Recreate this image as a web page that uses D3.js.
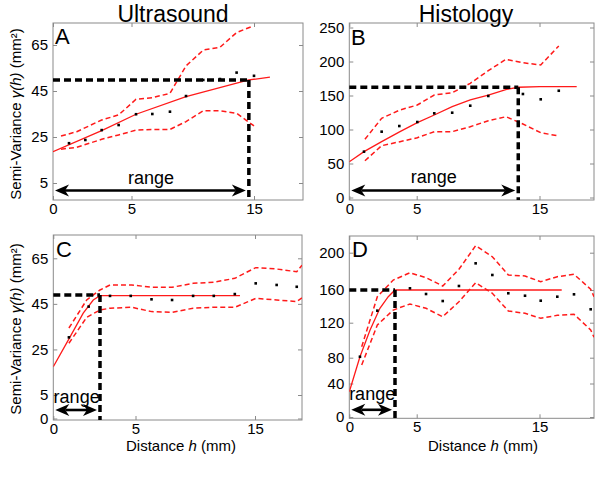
<!DOCTYPE html>
<html><head><meta charset="utf-8">
<script src="https://cdn.jsdelivr.net/npm/d3@7"></script>
<style>body{margin:0;background:#fff} svg{display:block} text{font-family:"Liberation Sans",Arial,sans-serif}</style>
</head><body><svg id="c" width="600" height="500"></svg>
<script>
// ---------- DATA ----------
const titles = ["Ultrasound", "Histology"];
const panelLetters = ["A", "B", "C", "D"];

// Panel A (Ultrasound, top)
const A_xTicks = [0, 5, 15];
const A_yTicks = [5, 25, 45, 65];
const A_lag = [1.02, 2.06, 3.10, 4.18, 5.37, 6.70, 8.14, 9.45, 10.86, 12.22, 13.58, 15.0];
const A_gamma = [22.3, 23.7, 28.0, 30.2, 34.9, 35.0, 36.0, 42.8, 49.8, 50.2, 53.0, 51.6];
const A_fitLag = [0, 3.10, 5.37, 9.45, 14.58, 16.3];
const A_fit = [18.6, 27.8, 34.9, 42.6, 49.8, 51.0];
const A_upLag = [0.51, 1.51, 3.10, 4.18, 5.37, 6.70, 8.14, 9.45, 10.86, 12.22, 13.58, 14.8];
const A_upper = [25.4, 27.3, 32.4, 34.6, 41.4, 42.1, 44.0, 55.9, 62.8, 64.0, 70.4, 73.0];
const A_loLag = [0.51, 1.51, 3.10, 4.18, 5.37, 6.70, 8.14, 9.45, 10.86, 12.22, 13.58, 15.0];
const A_lower = [19.7, 20.5, 24.0, 25.9, 28.0, 28.3, 28.3, 31.7, 36.4, 36.4, 35.3, 29.8];
const A_range = 14.58, A_sill = 49.8;

// Panel B (Histology, top)
const B_xTicks = [0, 5, 15];
const B_yTicks = [0, 50, 100, 150, 200, 250];
const B_lag = [1.09, 2.40, 3.71, 5.05, 6.43, 7.89, 9.36, 10.83, 12.2, 13.65, 15.1, 16.57];
const B_gamma = [67.4, 96.8, 105.1, 111.0, 123.8, 124.7, 135.0, 149.3, 162, 152.2, 144.4, 157.0];
const B_fitLag = [0, 1.09, 2.40, 3.76, 5.05, 6.43, 7.89, 9.36, 10.83, 12.32, 13.27, 15.04, 18.03];
const B_fit = [52.6, 67.4, 82.1, 96.8, 110.0, 121.3, 133.5, 143.4, 150.7, 159.1, 162.1, 163, 163];
const B_bandLag = [1.16, 2.40, 3.76, 5.05, 6.43, 7.89, 9.36, 10.83, 12.27, 13.65, 15.1, 16.57];
const B_upper = [85.6, 116.5, 128.7, 136, 150.7, 154.1, 167.9, 186.5, 203.2, 198.2, 194.9, 222.8];
const B_lower = [54.1, 76.2, 82.1, 87.9, 96.8, 96.8, 104.1, 112.9, 118.8, 108.1, 95.3, 90.4];
const B_range = 13.27, B_sill = 162;

// Panel C (Ultrasound, bottom)
const C_xTicks = [0, 5, 15];
const C_yTicks = [0, 5, 25, 45, 65];
const C_lag = [0.95, 2.15, 3.45, 4.71, 6.34, 8.06, 9.82, 11.55, 13.31, 15.06, 16.81, 18.49];
const C_gamma = [30.3, 43.8, 48.5, 48.5, 47.0, 46.7, 48.5, 48.5, 49.3, 54.0, 53.3, 52.5];
const C_fitLag = [0, 0.91, 1.82, 2.43, 2.84, 13.74];
const C_fit = [17.4, 29.1, 40.9, 46.7, 48.6, 48.6];
const C_bandLag = [0.95, 2.03, 2.84, 3.45, 4.77, 6.34, 8.06, 9.82, 11.55, 13.31, 15.06, 16.81, 18.49, 18.93];
const C_upper = [34.4, 46.7, 51.1, 53.3, 53.3, 52.3, 52.3, 54.0, 54.5, 56.2, 60.9, 60.3, 59.1, 62];
const C_lower = [27.7, 39.1, 42.3, 43.1, 43.5, 41.6, 41.3, 43.1, 43.5, 43.5, 47.4, 46.7, 46.0, 47.6];
const C_range = 2.84, C_sill = 48.9;

// Panel D (Histology, bottom)
const D_xTicks = [0, 5, 15];
const D_yTicks = [0, 40, 80, 120, 160, 200];
const D_lag = [0.79, 2.08, 4.5, 5.76, 7.12, 8.44, 9.8, 11.16, 12.46, 13.82, 15.1, 16.45, 17.81, 19.17];
const D_gamma = [81.1, 134.7, 161.8, 155.1, 146.5, 164.3, 188.6, 176.1, 156, 153, 146.9, 151.8, 154.7, 136.4];
const D_fitLag = [0, 0.79, 1.54, 2.27, 2.89, 3.39, 16.81];
const D_fit = [30.2, 81, 111.7, 137.6, 151.8, 160, 160];
const D_bandLag = [0.92, 2.08, 3.26, 4.5, 5.76, 7.12, 8.44, 9.8, 11.16, 12.46, 13.82, 15.1, 16.45, 17.81, 19.17, 19.44];
const D_upper = [92.6, 151.8, 170.7, 178.5, 173.2, 164.3, 182.2, 207.5, 195.7, 176.1, 175, 168.9, 174.3, 176.8, 160.8, 151.8];
const D_lower = [68.7, 117.4, 135.5, 142.9, 137.6, 127.3, 145.7, 167.8, 156, 134.3, 131.5, 125.4, 129, 130.3, 111.7, 103.3];
const D_range = 3.39, D_sill = 160;

// ---------- LAYOUT ----------
const svg = d3.select("#c");
const zip = (xs, ys) => xs.map((v, i) => [v, ys[i]]);

const panels = [
  { letter: panelLetters[0], box: {l: 53, r: 303, t: 23, b: 200},
    x: d3.scaleLinear().domain([0, 5, 15, 19]).range([53, 131.5, 254, 303]),
    y: d3.scaleLinear().domain([5, 65]).range([183, 45]),
    xTicks: A_xTicks, yTicks: A_yTicks,
    pts: zip(A_lag, A_gamma), fit: zip(A_fitLag, A_fit),
    up: zip(A_upLag, A_upper), lo: zip(A_loLag, A_lower),
    range: A_range, sill: A_sill, letterPos: [55, 43.5], arrowOff: 9.5, textOff: 16 },
  { letter: panelLetters[1], box: {l: 349.3, r: 594, t: 23, b: 200},
    x: d3.scaleLinear().domain([0, 5, 15, 19.44]).range([349.3, 416.7, 539.5, 594]),
    y: d3.scaleLinear().domain([0, 250]).range([197.5, 27.5]),
    xTicks: B_xTicks, yTicks: B_yTicks,
    pts: zip(B_lag, B_gamma), fit: zip(B_fitLag, B_fit),
    up: zip(B_bandLag, B_upper), lo: zip(B_bandLag, B_lower),
    range: B_range, sill: B_sill, letterPos: [351, 44.5], arrowOff: 9.5, textOff: 17 },
  { letter: panelLetters[2], box: {l: 53.3, r: 302, t: 235, b: 420},
    x: d3.scaleLinear().domain([0, 5, 15, 18.93]).range([53.3, 135.5, 255, 302]),
    y: d3.scaleLinear().domain([0, 5, 65]).range([418.5, 395, 258.3]),
    xTicks: C_xTicks, yTicks: C_yTicks,
    pts: zip(C_lag, C_gamma), fit: zip(C_fitLag, C_fit),
    up: zip(C_bandLag, C_upper), lo: zip(C_bandLag, C_lower),
    range: C_range, sill: C_sill, letterPos: [56, 257], arrowOff: 10, textOff: 17 },
  { letter: panelLetters[3], box: {l: 349.3, r: 594, t: 236, b: 418.3},
    x: d3.scaleLinear().domain([0, 5, 15, 19.44]).range([349.3, 416.7, 539.5, 594]),
    y: d3.scaleLinear().domain([0, 40, 80, 120, 160, 200]).range([417, 383.5, 357.7, 322.7, 290, 252.7]),
    xTicks: D_xTicks, yTicks: D_yTicks,
    pts: zip(D_lag, D_gamma), fit: zip(D_fitLag, D_fit),
    up: zip(D_bandLag, D_upper), lo: zip(D_bandLag, D_lower),
    range: D_range, sill: D_sill, letterPos: [352, 257], arrowOff: 8.5, textOff: 18 }
];

const FRAME = "#8a8a8a";

function styleAxis(sel) {
  sel.select(".domain").remove();
  sel.selectAll(".tick line").attr("stroke", FRAME);
  sel.selectAll(".tick text").attr("fill", "#000").style("font-size", "15px")
     .style("font-family", '"Liberation Sans", Arial, sans-serif');
}

function drawArrow(g, x0, x1, yy) {
  const L = 14, H = 6, N = 10;
  g.append("line").attr("x1", x0 + N).attr("x2", x1 - N).attr("y1", yy).attr("y2", yy)
    .attr("stroke", "#000").attr("stroke-width", 2.6);
  g.append("path").attr("d", `M${x0},${yy} L${x0 + L},${yy - H} L${x0 + N},${yy} L${x0 + L},${yy + H} Z`).attr("fill", "#000");
  g.append("path").attr("d", `M${x1},${yy} L${x1 - L},${yy - H} L${x1 - N},${yy} L${x1 - L},${yy + H} Z`).attr("fill", "#000");
}

panels.forEach(p => {
  const g = svg.append("g");
  const {box, x, y} = p;
  const clipId = "clip" + p.letter;
  svg.append("clipPath").attr("id", clipId).append("rect")
    .attr("x", box.l).attr("y", box.t).attr("width", box.r - box.l).attr("height", box.b - box.t);

  // axes (ticks point inward, MATLAB box style)
  g.append("g").attr("transform", `translate(${box.l},0)`)
    .call(d3.axisLeft(y).tickValues(p.yTicks).tickSize(-4).tickPadding(5)).call(styleAxis);
  g.append("g").attr("transform", `translate(${box.r},0)`)
    .call(d3.axisRight(y).tickValues(p.yTicks).tickSize(-4).tickFormat("")).call(styleAxis);
  g.append("g").attr("transform", `translate(0,${box.b})`)
    .call(d3.axisBottom(x).tickValues(p.xTicks).tickSize(-4).tickPadding(3)).call(styleAxis);
  g.append("g").attr("transform", `translate(0,${box.t})`)
    .call(d3.axisTop(x).tickValues(p.xTicks).tickSize(-4).tickFormat("")).call(styleAxis);
  g.append("rect").attr("x", box.l).attr("y", box.t).attr("width", box.r - box.l).attr("height", box.b - box.t)
    .attr("fill", "none").attr("stroke", FRAME).attr("stroke-width", 1);

  const plot = g.append("g").attr("clip-path", `url(#${clipId})`);
  const line = d3.line().x(d => x(d[0])).y(d => y(d[1]));

  // confidence bands (dashed red)
  [p.up, p.lo].forEach(band => {
    plot.append("path").attr("d", line(band)).attr("fill", "none")
      .attr("stroke", "#ff1a1a").attr("stroke-width", 1.5).attr("stroke-dasharray", "5,3");
  });
  // fitted model (solid red)
  plot.append("path").attr("d", line(p.fit)).attr("fill", "none")
    .attr("stroke", "#ff1a1a").attr("stroke-width", 1.3);

  // experimental semivariance points
  plot.selectAll("rect.pt").data(p.pts).enter().append("rect").attr("class", "pt")
    .attr("x", d => x(d[0]) - 1.3).attr("y", d => y(d[1]) - 1.3)
    .attr("width", 2.6).attr("height", 2.6).attr("fill", "#000");

  // sill / range dashed lines
  const xr = x(p.range), ys = y(p.sill);
  g.append("line").attr("x1", x(0)).attr("x2", xr).attr("y1", ys).attr("y2", ys)
    .attr("stroke", "#000").attr("stroke-width", 3.5).attr("stroke-dasharray", "7,4");
  g.append("line").attr("x1", xr).attr("x2", xr).attr("y1", ys).attr("y2", box.b)
    .attr("stroke", "#000").attr("stroke-width", 3.5).attr("stroke-dasharray", "7,4");

  // range arrow and label
  drawArrow(g, x(0) + 2, xr - 3, box.b - p.arrowOff);
  g.append("text").attr("x", (x(0) + xr) / 2).attr("y", box.b - p.textOff)
    .attr("text-anchor", "middle").style("font-size", "18px").text("range");

  // panel letter
  g.append("text").attr("x", p.letterPos[0]).attr("y", p.letterPos[1])
    .style("font-size", "22px").text(p.letter);
});

// Column titles
svg.append("text").attr("x", 173).attr("y", 21.5).attr("text-anchor", "middle")
  .style("font-size", "23px").text(titles[0]);
svg.append("text").attr("x", 466).attr("y", 21.5).attr("text-anchor", "middle")
  .style("font-size", "23px").text(titles[1]);

// Y axis labels
[114, 329].forEach(cy => {
  const t = svg.append("text").attr("transform", `translate(21,${cy}) rotate(-90)`)
    .attr("text-anchor", "middle").style("font-size", "15px");
  t.append("tspan").text("Semi-Variance ");
  t.append("tspan").style("font-style", "italic").text("γ(h)");
  t.append("tspan").text(" (mm²)");
});

// X axis labels
[181, 483].forEach(cx => {
  const t = svg.append("text").attr("x", cx).attr("y", 450.5)
    .attr("text-anchor", "middle").style("font-size", "15px");
  t.append("tspan").text("Distance ");
  t.append("tspan").style("font-style", "italic").text("h");
  t.append("tspan").text(" (mm)");
});
</script>
</body></html>
